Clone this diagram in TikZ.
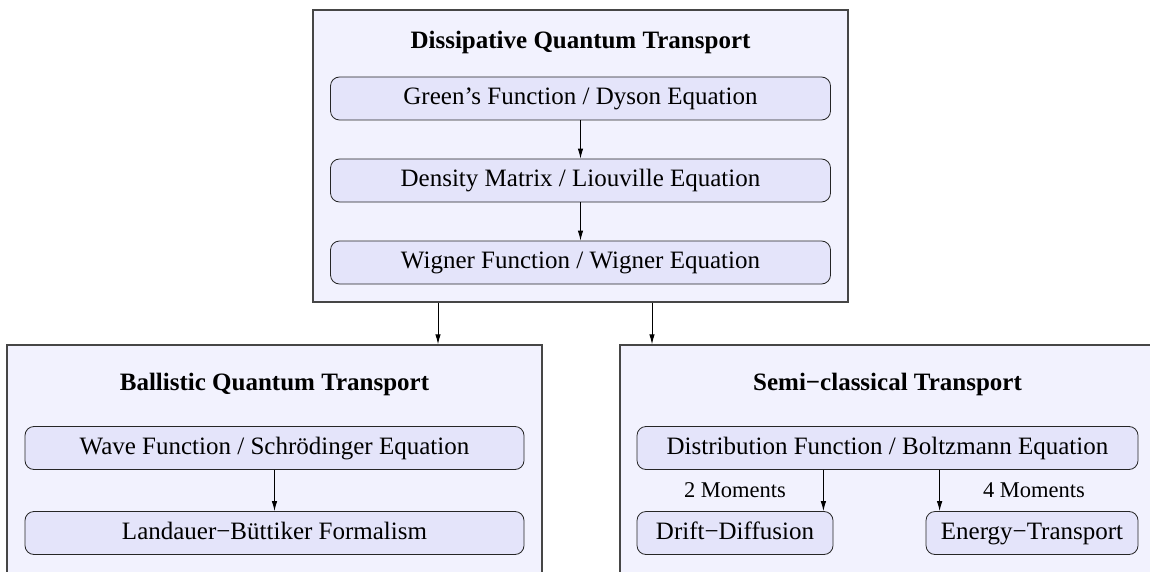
\documentclass[tikz,border=0pt]{standalone}
\usepackage{fontspec}
\setmainfont{Liberation Serif}
\usepackage{tikz}
\usetikzlibrary{arrows.meta, positioning}
\usepackage{xcolor}
\definecolor{groupfill}{RGB}{242,242,254}
\definecolor{modelfill}{RGB}{228,228,250}
\definecolor{framegray}{RGB}{70,70,70}

\begin{document}
\begin{tikzpicture}[x=1pt, y=-1pt,
  group/.style={draw=framegray, line width=1.4pt, fill=groupfill, inner sep=0pt, minimum width=535pt},
  model/.style={draw=black!85, line width=0.8pt, rounded corners=9pt, fill=modelfill, inner sep=0pt, minimum height=43pt, text height=17pt, text depth=5pt, font=\fontsize{25}{30}\selectfont},
  grouptitle/.style={font=\fontsize{25}{30}\selectfont\bfseries, text height=17pt, text depth=5pt},
  momentlabel/.style={font=\fontsize{22.5}{27}\selectfont, text height=15pt, text depth=4pt},
  link/.style={-{Latex[length=10pt, width=5.5pt]}, line width=0.9pt},
]
\useasboundingbox (0,0) rectangle (1150,572);
\clip (0,0) rectangle (1150,572);

% Group frames
\node[group, minimum height=292pt] (dqt) at (580.5,156) {};
\node[group, minimum height=250pt] (bqt) at (274.5,470) {};
\node[group, minimum height=250pt] (sct) at (887.5,470) {};

% Dissipative quantum transport
\node[grouptitle] (dqttitle) at (580.5,43) {Dissipative Quantum Transport};
\node[model, minimum width=500pt] (green) at (580.5,98.5) {Green’s Function / Dyson Equation};
\node[model, minimum width=500pt] (density) at (580.5,180.5) {Density Matrix / Liouville Equation};
\node[model, minimum width=500pt] (wigner) at (580.5,262.5) {Wigner Function / Wigner Equation};
\draw[link] (green) -- (density);
\draw[link] (density) -- (wigner);

% Ballistic quantum transport
\node[grouptitle] (bqttitle) at (274.5,384) {Ballistic Quantum Transport};
\node[model, minimum width=499pt] (wave) at (274.5,448) {Wave Function / Schrödinger Equation};
\node[model, minimum width=499pt] (landauer) at (274.5,533) {Landauer−Büttiker Formalism};
\draw[link] (wave) -- (landauer);

% Semi-classical transport
\node[grouptitle] (scttitle) at (887.5,384) {Semi−classical Transport};
\node[model, minimum width=501pt] (boltzmann) at (887.5,448) {Distribution Function / Boltzmann Equation};
\node[model, minimum width=196pt] (drift) at (735,533) {Drift−Diffusion};
\node[model, minimum width=212pt] (energy) at (1032,533) {Energy−Transport};
\draw[link] ([xshift=-10pt]drift.north east |- boltzmann.south) -- ([xshift=-10pt]drift.north east);
\draw[link] ([xshift=14pt]energy.north west |- boltzmann.south) -- ([xshift=14pt]energy.north west);
\node[momentlabel] (two) at (735,492) {2 Moments};
\node[momentlabel] (four) at (1034,492) {4 Moments};

% Links between groups
\draw[link] ([xshift=-142.5pt]dqt.south) -- ([xshift=-142.5pt]dqt.south |- bqt.north);
\draw[link] ([xshift=71.5pt]dqt.south) -- ([xshift=71.5pt]dqt.south |- sct.north);
\end{tikzpicture}
\end{document}
